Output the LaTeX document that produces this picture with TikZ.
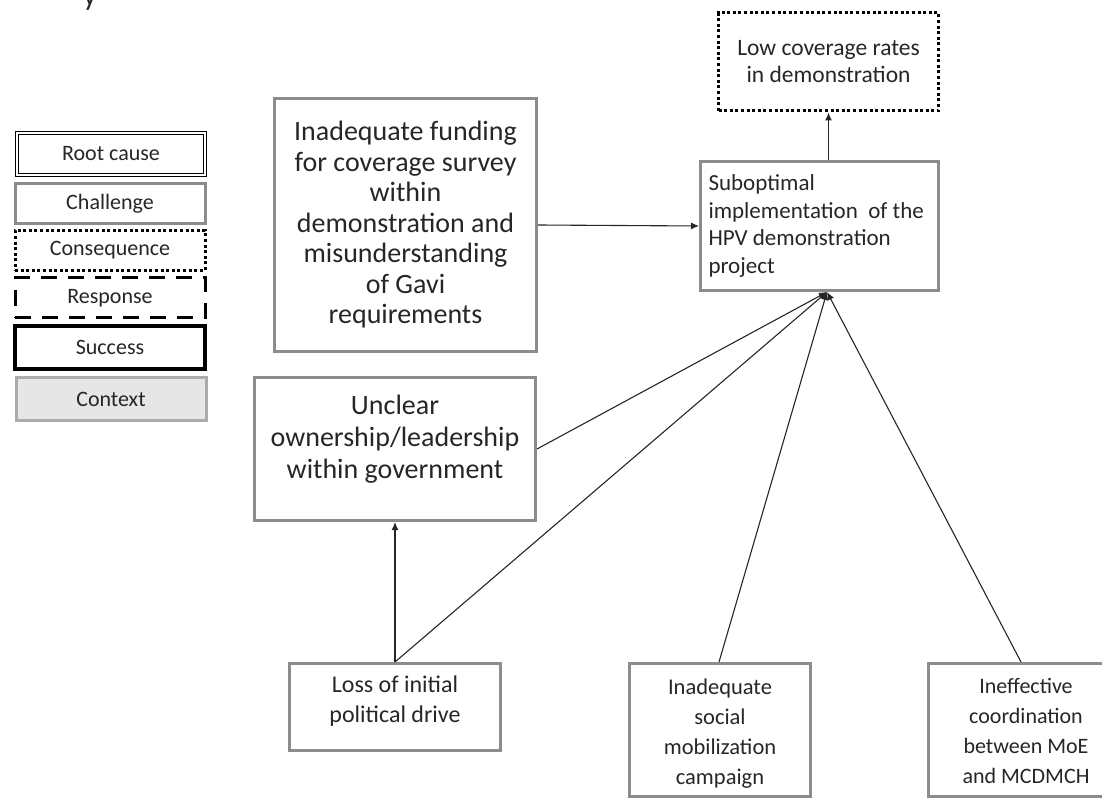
\documentclass[tikz,border=0pt]{standalone}
\usepackage{fontspec}
\setmainfont{Carlito}
\usetikzlibrary{arrows.meta}
\definecolor{bordergray}{HTML}{8C8C8C}
\definecolor{ctxgray}{HTML}{E6E6E6}
\definecolor{ctxborder}{HTML}{ABABAB}
\definecolor{txt}{HTML}{262626}
\tikzset{
  base/.style={rectangle, inner sep=0pt, text=txt, align=center},
  legend/.style={base, minimum width=190pt, minimum height=40pt, font=\fontsize{22}{24}\selectfont},
  rootbox/.style={legend, draw=black, double=white, double distance=2pt, line width=1.4pt, minimum width=188pt, minimum height=42pt},
  challenge/.style={base, draw=bordergray, line width=3pt},
  consequence/.style={base, draw=black, line width=3pt, dash pattern=on 3pt off 2.6pt},
  responsebox/.style={base, draw=black, line width=3pt, dash pattern=on 16pt off 11pt},
  successbox/.style={base, draw=black, line width=4pt},
  contextbox/.style={base, draw=ctxborder, fill=ctxgray, line width=3pt},
  conn/.style={draw=black!85, line width=1.1pt},
  arr/.style={conn, -{Latex[length=8pt,width=7pt]}},
}
\begin{document}
\begin{tikzpicture}[x=1pt,y=-1pt]
\useasboundingbox (0,0) rectangle (1102,799);

% stray fragment at top
\node[anchor=base, text=txt, font=\fontsize{30}{30}\selectfont] (frag) at (90,6) {y};

% legend
\node[rootbox] (lroot) at (111,154) {Root cause};
\node[legend, challenge] (lchal) at (110,203.5) {Challenge};
\node[legend, consequence] (lcons) at (110,250.5) {Consequence};
\node[legend, responsebox] (lresp) at (110,298) {Response};
\node[legend, successbox, minimum height=43pt] (lsucc) at (110,347.5) {Success};
\node[legend, contextbox, minimum height=43pt] (lctx) at (111,399) {Context};

% main boxes
\node[consequence, minimum width=220pt, minimum height=98pt, font=\fontsize{23.5}{27}\selectfont] (low) at (828.5,62) {Low coverage rates\\in demonstration};

\node[challenge, minimum width=238pt, minimum height=129pt, font=\fontsize{23}{27.5}\selectfont] (sub) at (819.5,226)
  {\parbox{222pt}{\raggedright Suboptimal\\implementation\ \ of the\\HPV demonstration\\project}};

\node[challenge, minimum width=262pt, minimum height=253pt, font=\fontsize{28}{30.5}\selectfont] (fund) at (405.5,225)
  {Inadequate funding\\for coverage survey\\within\\demonstration and\\misunderstanding\\of Gavi\\requirements};

\node[challenge, minimum width=281pt, minimum height=143pt, font=\fontsize{28}{32}\selectfont] (unclear) at (395,449)
  {\parbox[c][128pt][t]{270pt}{\centering\vspace{10pt}Unclear\\ownership/leadership\\within government}};

\node[challenge, minimum width=211pt, minimum height=87pt, font=\fontsize{24}{30}\selectfont] (loss) at (395,707)
  {\parbox[c][80pt][t]{200pt}{\centering\vspace{9pt}Loss of initial\\political drive}};

\node[challenge, minimum width=181pt, minimum height=133pt, font=\fontsize{22.5}{30}\selectfont] (social) at (720,730)
  {\parbox[c][125pt][t]{175pt}{\centering\vspace{11pt}Inadequate\\social\\mobilization\\campaign}};

\node[challenge, minimum width=196pt, minimum height=133pt, font=\fontsize{22}{30}\selectfont] (ineff) at (1026,730)
  {\parbox[c][125pt][t]{190pt}{\centering\vspace{11pt}Ineffective\\coordination\\between MoE\\and MCDMCH}};

% connectors
\coordinate (conv) at ([xshift=7.5pt]sub.south);
\draw[arr] (low.south |- sub.north) -- (low.south);
\draw[arr] (fund.east) -- (sub.west);
\draw[arr] (loss.north) -- (unclear.south);
\draw[arr] (loss.north) -- (conv);
\draw[arr] (unclear.east) -- (conv);
\draw[arr] ([xshift=-1pt]social.north) -- (conv);
\draw[arr] ([xshift=-5pt]ineff.north) -- (conv);
\end{tikzpicture}
\end{document}
